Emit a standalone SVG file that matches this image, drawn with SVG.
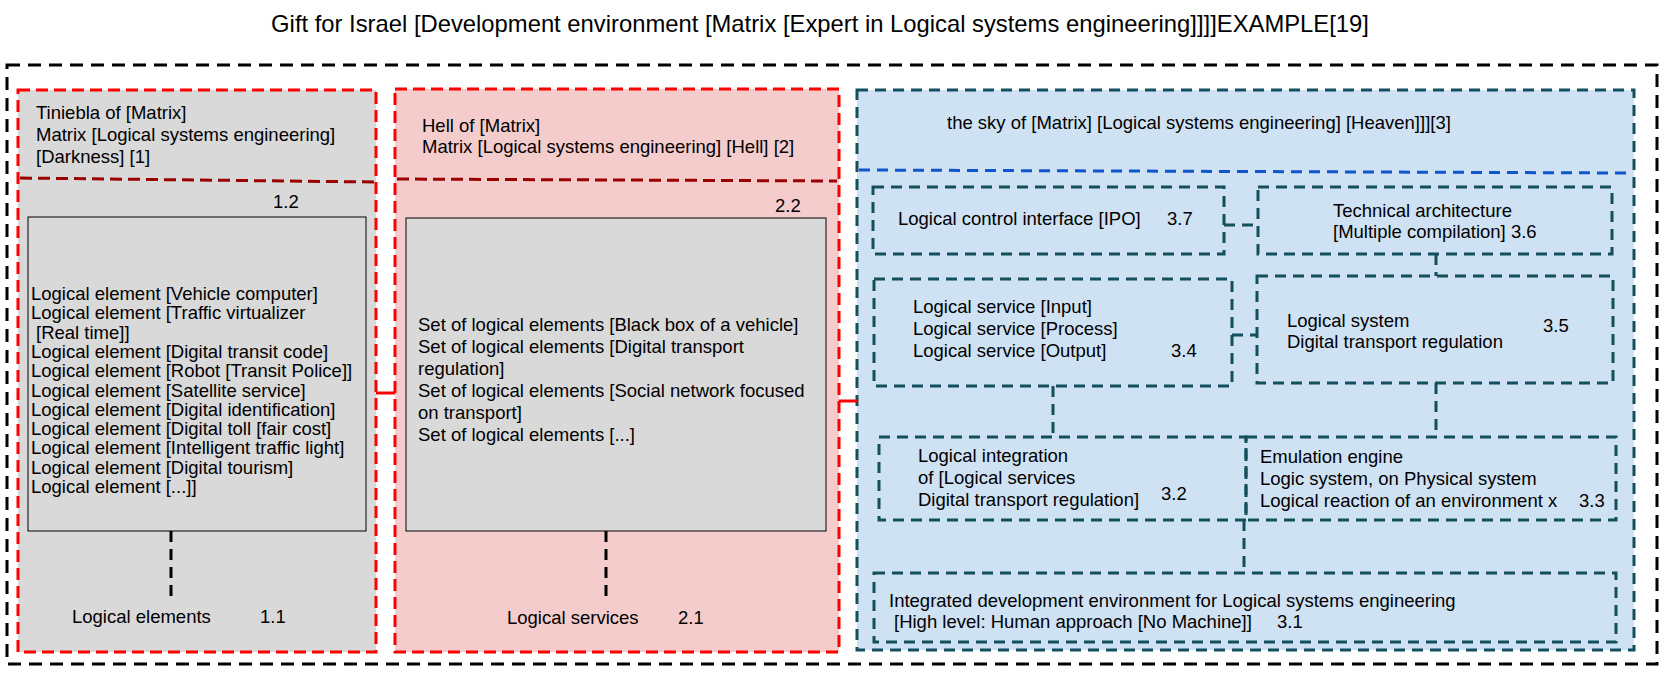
<svg xmlns="http://www.w3.org/2000/svg" width="1677" height="677" viewBox="0 0 1677 677">
<defs>
<style>
text{font-family:"Liberation Sans",Arial,sans-serif;font-size:18.5px;fill:#000}
.title{font-size:23.8px}
.outer{fill:none;stroke:#000;stroke-width:3;stroke-dasharray:13 8}
.redp{stroke:#ff0000;stroke-width:3;stroke-dasharray:12 6}
.sepr{stroke:#990000;stroke-width:3;stroke-dasharray:12 6;fill:none}
.sepb{stroke:#1155cc;stroke-width:3;stroke-dasharray:11 7;fill:none}
.teal{fill:none;stroke:#134f5c;stroke-width:3;stroke-dasharray:11 7}
.bluep{fill:#cfe2f3;stroke:#134f5c;stroke-width:3;stroke-dasharray:11 7}
.inner{fill:#d9d9d9;stroke:#000;stroke-width:1}
.cblk{stroke:#000;stroke-width:3;stroke-dasharray:11 7;fill:none}
.cred{stroke:#ff0000;stroke-width:3;fill:none}
.ctl{stroke:#134f5c;stroke-width:3;stroke-dasharray:11 7;fill:none}
</style>
</defs>
<rect width="1677" height="677" fill="#fff"/>
<text class="title" x="820" y="32" text-anchor="middle">Gift for Israel [Development environment [Matrix [Expert in Logical systems engineering]]]]EXAMPLE[19]</text>
<rect id="outer-frame" class="outer" x="7" y="65" width="1650" height="599"/>

<g id="panel-1">
<rect x="18" y="90" width="358" height="562" fill="#d9d9d9" class="redp"/>
<line class="sepr" x1="20" y1="178" x2="374" y2="182"/>
<text x="36" y="119">Tiniebla of [Matrix]</text>
<text x="36" y="141">Matrix [Logical systems engineering]</text>
<text x="36" y="163">[Darkness] [1]</text>
<text x="273" y="208">1.2</text>
</g>
<g id="node-1-2">
<rect class="inner" x="28" y="217" width="338" height="314"/>
<text x="31" y="300">Logical element [Vehicle computer]</text>
<text x="31" y="319.3">Logical element [Traffic virtualizer</text>
<text x="36" y="338.6">[Real time]]</text>
<text x="31" y="357.9">Logical element [Digital transit code]</text>
<text x="31" y="377.2">Logical element [Robot [Transit Police]]</text>
<text x="31" y="396.5">Logical element [Satellite service]</text>
<text x="31" y="415.8">Logical element [Digital identification]</text>
<text x="31" y="435.1">Logical element [Digital toll [fair cost]</text>
<text x="31" y="454.4">Logical element [Intelligent traffic light]</text>
<text x="31" y="473.7">Logical element [Digital tourism]</text>
<text x="31" y="493">Logical element [...]]</text>
</g>
<g id="node-1-1">
<text x="72" y="623">Logical elements</text>
<text x="260" y="623">1.1</text>
</g>

<g id="panel-2">
<rect x="395" y="89" width="444" height="563" fill="#f4cccc" class="redp"/>
<line class="sepr" x1="397" y1="179" x2="837" y2="181"/>
<text x="422" y="132">Hell of [Matrix]</text>
<text x="422" y="153">Matrix [Logical systems engineering] [Hell] [2]</text>
<text x="775" y="212">2.2</text>
</g>
<g id="node-2-2">
<rect class="inner" x="406" y="218" width="420" height="313"/>
<text x="418" y="331">Set of logical elements [Black box of a vehicle]</text>
<text x="418" y="353">Set of logical elements [Digital transport</text>
<text x="418" y="375">regulation]</text>
<text x="418" y="397">Set of logical elements [Social network focused</text>
<text x="418" y="419">on transport]</text>
<text x="418" y="441">Set of logical elements [...]</text>
</g>
<g id="node-2-1">
<text x="507" y="624">Logical services</text>
<text x="678" y="624">2.1</text>
</g>

<g id="panel-3">
<rect class="bluep" x="857" y="90" width="777" height="560"/>
<line class="sepb" x1="859" y1="170" x2="1628" y2="173"/>
<text x="947" y="129">the sky of [Matrix] [Logical systems engineering] [Heaven]]][3]</text>
</g>
<g id="node-3-7">
<rect class="teal" x="873" y="187" width="351" height="67"/>
<text x="898" y="225">Logical control interface [IPO]</text>
<text x="1167" y="225">3.7</text>
</g>
<g id="node-3-6">
<rect class="teal" x="1258" y="187" width="354" height="67"/>
<text x="1333" y="217">Technical architecture</text>
<text x="1333" y="238">[Multiple compilation] 3.6</text>
</g>
<g id="node-3-4">
<rect class="teal" x="874" y="279" width="358" height="107"/>
<text x="913" y="313">Logical service [Input]</text>
<text x="913" y="335">Logical service [Process]</text>
<text x="913" y="357">Logical service [Output]</text>
<text x="1171" y="357">3.4</text>
</g>
<g id="node-3-5">
<rect class="teal" x="1257" y="276" width="356" height="107"/>
<text x="1287" y="327">Logical system</text>
<text x="1287" y="348">Digital transport regulation</text>
<text x="1543" y="332">3.5</text>
</g>
<g id="node-3-2">
<rect class="teal" x="879" y="437" width="367" height="83"/>
<text x="918" y="462">Logical integration</text>
<text x="918" y="484">of [Logical services</text>
<text x="918" y="506">Digital transport regulation]</text>
<text x="1161" y="500">3.2</text>
</g>
<g id="node-3-3">
<rect class="teal" x="1246" y="437" width="370" height="83"/>
<text x="1260" y="463">Emulation engine</text>
<text x="1260" y="485">Logic system, on Physical system</text>
<text x="1260" y="507">Logical reaction of an environment x</text>
<text x="1579" y="507">3.3</text>
</g>
<g id="node-3-1">
<rect class="teal" x="874" y="573" width="742" height="69"/>
<text x="889" y="607">Integrated development environment for Logical systems engineering</text>
<text x="894" y="628">[High level: Human approach [No Machine]]</text>
<text x="1277" y="628">3.1</text>
</g>

<g id="connectors">
<line class="cred" x1="376" y1="393" x2="395" y2="393"/>
<line class="cred" x1="839" y1="401" x2="857" y2="401"/>
<line class="cblk" x1="171" y1="531" x2="171" y2="602"/>
<line class="cblk" x1="606" y1="531" x2="606" y2="602"/>
<line class="ctl" x1="1224" y1="225" x2="1258" y2="225"/>
<line class="ctl" x1="1436" y1="254" x2="1436" y2="276"/>
<line class="ctl" x1="1232" y1="335" x2="1257" y2="335"/>
<line class="ctl" x1="1053" y1="386" x2="1053" y2="437"/>
<line class="ctl" x1="1436" y1="383" x2="1436" y2="437"/>
<line class="ctl" x1="1244" y1="520" x2="1244" y2="573"/>
</g>
</svg>
